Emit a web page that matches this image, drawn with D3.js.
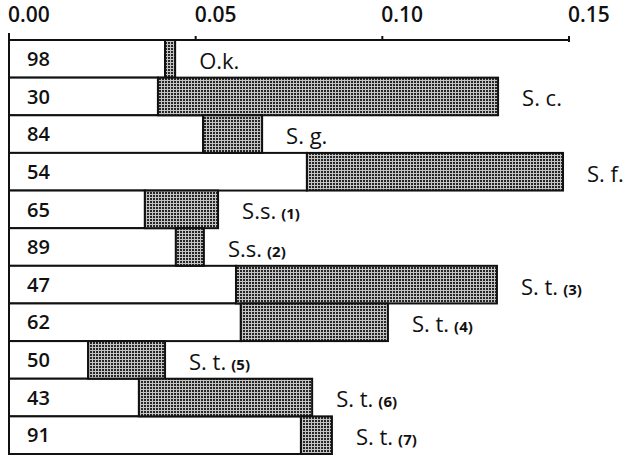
<!DOCTYPE html>
<html>
<head>
<meta charset="utf-8">
<script src="https://cdn.jsdelivr.net/npm/d3@7"></script>
<style>
  html, body { margin: 0; padding: 0; background: #fff; }
  svg { display: block; }
</style>
</head>
<body>
<div id="chart"></div>
<script>
// row numbers printed in the white bars
var counts = ["98", "30", "84", "54", "65", "89", "47", "62", "50", "43", "91"];
// species names and sub numbers
var species = ["O.k.", "S. c.", "S. g.", "S. f.", "S.s.", "S.s.", "S. t.", "S. t.", "S. t.", "S. t.", "S. t."];
var subs = ["", "", "", "", "(1)", "(2)", "(3)", "(4)", "(5)", "(6)", "(7)"];
// end of white bar / end of shaded bar
var lower = [0.0418, 0.0399, 0.0520, 0.0798, 0.0364, 0.0447, 0.0608, 0.0621, 0.0212, 0.0348, 0.0782];
var upper = [0.0445, 0.1310, 0.0678, 0.1484, 0.0560, 0.0522, 0.1307, 0.1015, 0.0418, 0.0812, 0.0865];
var tickVals = [0, 0.05, 0.10, 0.15];

var W = 626, H = 456;
var svg = d3.select("#chart").append("svg").attr("width", W).attr("height", H);

// checkered fill
var pat = svg.append("defs").append("pattern")
  .attr("id", "checker").attr("patternUnits", "userSpaceOnUse")
  .attr("width", 3).attr("height", 3);
pat.append("rect").attr("width", 3).attr("height", 3).attr("fill", "#c4c4c4");
pat.append("rect").attr("width", 2).attr("height", 2).attr("fill", "#262626");

var x = d3.scaleLinear().domain([0, 0.15]).range([9, 569]);
var y = d3.scaleBand().domain(d3.range(counts.length)).range([40, 454]).padding(0);

var rows = d3.range(counts.length);

// white bars
svg.selectAll(".lo").data(rows).enter().append("rect")
  .attr("x", x(0))
  .attr("y", function(i) { return y(i); })
  .attr("width", function(i) { return x(lower[i]) - x(0); })
  .attr("height", y.bandwidth())
  .attr("fill", "#fff").attr("stroke", "#111").attr("stroke-width", 2);

// shaded bars
svg.selectAll(".hi").data(rows).enter().append("rect")
  .attr("x", function(i) { return x(lower[i]); })
  .attr("y", function(i) { return y(i); })
  .attr("width", function(i) { return x(upper[i]) - x(lower[i]); })
  .attr("height", y.bandwidth())
  .attr("fill", "url(#checker)").attr("stroke", "#111").attr("stroke-width", 2);

// numbers
svg.selectAll(".num").data(rows).enter().append("text")
  .attr("x", 27)
  .attr("y", function(i) { return y(i) + y.bandwidth() / 2; })
  .attr("dy", "0.36em")
  .attr("font-family", "Open Sans, sans-serif")
  .attr("font-weight", 600).attr("font-size", 20).attr("fill", "#111")
  .text(function(i) { return counts[i]; });

// species labels
var lab = svg.selectAll(".lab").data(rows).enter().append("text")
  .attr("x", function(i) { return x(upper[i]) + 24; })
  .attr("y", function(i) { return y(i) + y.bandwidth() / 2 + 2; })
  .attr("dy", "0.36em")
  .attr("font-family", "Open Sans, sans-serif")
  .attr("font-size", 22).attr("fill", "#111");
lab.append("tspan").text(function(i) { return species[i]; });
lab.append("tspan")
  .attr("font-size", 15).attr("font-weight", 700)
  .attr("dx", 5)
  .text(function(i) { return subs[i]; });

// axis
svg.append("line").attr("x1", x(0)).attr("x2", x(0.15)).attr("y1", 40).attr("y2", 40)
  .attr("stroke", "#111").attr("stroke-width", 2);
svg.append("line").attr("x1", x(0)).attr("x2", x(0)).attr("y1", 33).attr("y2", 454)
  .attr("stroke", "#111").attr("stroke-width", 2);
svg.selectAll(".tk").data(tickVals.slice(1)).enter().append("line")
  .attr("x1", function(d) { return x(d); }).attr("x2", function(d) { return x(d); })
  .attr("y1", 36).attr("y2", function(d, i) { return i == 2 ? 42 : 40; })
  .attr("stroke", "#111").attr("stroke-width", 2);
svg.selectAll(".tl").data(tickVals).enter().append("text")
  .attr("x", function(d) { return x(d) - 1; })
  .attr("y", 22)
  .attr("font-family", "Open Sans, sans-serif")
  .attr("font-weight", 600).attr("font-size", 21).attr("fill", "#111")
  .text(function(d) { return d3.format(".2f")(d); });
</script>
</body>
</html>
